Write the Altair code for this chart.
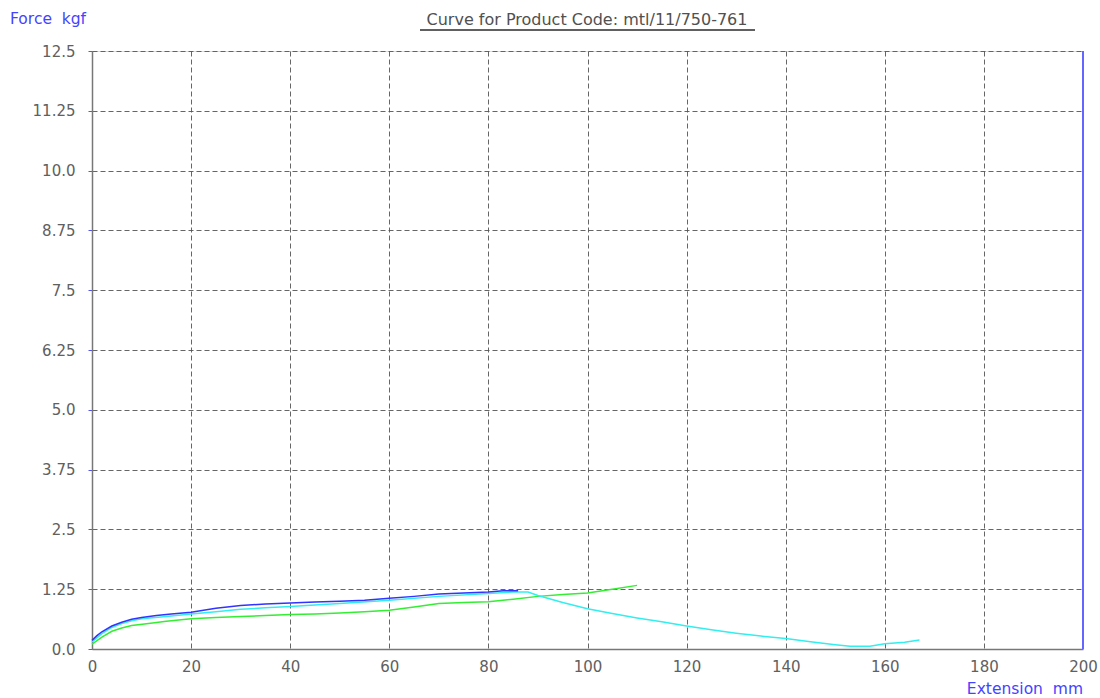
import altair as alt
import pandas as pd

# Tensile test curves: extension (mm) vs force (kgf)
s1_ext = [0, 1, 2, 4, 6, 8, 10, 13, 16, 20, 25, 30, 35, 40, 45, 50, 55, 60, 65, 70, 75, 80, 83, 86]
s1_force = [0.18, 0.28, 0.36, 0.48, 0.56, 0.62, 0.66, 0.70, 0.73, 0.77, 0.85, 0.91, 0.94, 0.96,
            0.98, 1.00, 1.02, 1.06, 1.10, 1.15, 1.17, 1.19, 1.22, 1.22]

s2_ext = [0, 2, 4, 6, 8, 10, 15, 20, 25, 30, 35, 40, 50, 60, 70, 80, 85, 88, 90, 95, 100, 105,
          110, 115, 120, 125, 130, 135, 140, 145, 150, 153, 157, 160, 164, 167]
s2_force = [0.15, 0.32, 0.45, 0.53, 0.59, 0.63, 0.68, 0.73, 0.78, 0.83, 0.86, 0.89, 0.95, 1.02,
            1.10, 1.16, 1.19, 1.19, 1.12, 0.97, 0.84, 0.74, 0.65, 0.57, 0.48, 0.40, 0.33, 0.27,
            0.22, 0.15, 0.09, 0.06, 0.06, 0.11, 0.14, 0.19]

s3_ext = [0, 2, 4, 6, 8, 11, 15, 20, 25, 30, 35, 40, 45, 50, 55, 60, 65, 70, 75, 80, 85, 90, 95,
          100, 105, 110]
s3_force = [0.10, 0.25, 0.37, 0.44, 0.49, 0.53, 0.58, 0.63, 0.66, 0.68, 0.70, 0.72, 0.73, 0.75,
            0.78, 0.81, 0.88, 0.95, 0.97, 0.99, 1.04, 1.10, 1.14, 1.17, 1.25, 1.33]

series_names = ["Sample 3", "Sample 2", "Sample 1"]
series_colors = ["#33ee33", "#33eeee", "#3333ff"]

x_ticks = [0, 20, 40, 60, 80, 100, 120, 140, 160, 180, 200]
y_ticks = [0, 1.25, 2.5, 3.75, 5.0, 6.25, 7.5, 8.75, 10.0, 11.25, 12.5]

title_text = "Curve for Product Code: mtl/11/750-761"
y_title = "Force\u00a0 kgf"
x_title = "Extension\u00a0 mm"

rows = []
for name, xs, ys in [("Sample 3", s3_ext, s3_force),
                     ("Sample 2", s2_ext, s2_force),
                     ("Sample 1", s1_ext, s1_force)]:
    for i, (a, b) in enumerate(zip(xs, ys)):
        rows.append({"series": name, "ext": a, "force": b, "i": i})
df = pd.DataFrame(rows)

W, H = 991, 598
FONT = "DejaVu Sans"
GRID = "#555555"

x_scale = alt.Scale(domain=[0, 200], nice=False, zero=False)
y_scale = alt.Scale(domain=[0, 12.5], nice=False, zero=False)

lines = alt.Chart(df).mark_line(strokeWidth=1.5, interpolate="linear").encode(
    x=alt.X("ext:Q", scale=x_scale,
            axis=alt.Axis(values=x_ticks, title=None, grid=True, gridDash=[5, 3],
                          gridColor=GRID, gridOpacity=0.9, domainColor="#777777",
                          domainWidth=1.5, ticks=False, labelPadding=10,
                          labelFont=FONT, labelFontSize=15, labelColor="#606060",
                          labelFlush=False)),
    y=alt.Y("force:Q", scale=y_scale,
            axis=alt.Axis(values=y_ticks, title=None, grid=True, gridDash=[5, 3],
                          gridColor=GRID, gridOpacity=0.9, domainColor="#777777",
                          domainWidth=1.5, tickColor="#5555ff", tickSize=4,
                          labelPadding=13, labelFont=FONT, labelFontSize=15,
                          labelColor="#606060", labelFlush=False,
                          labelExpr="datum.value % 2.5 == 0 ? format(datum.value, '.1f') : format(datum.value, '.2f')")),
    color=alt.Color("series:N", scale=alt.Scale(domain=series_names, range=series_colors),
                    legend=None),
    order="i:Q",
)

right_border = alt.Chart(df).mark_rule(color="#6666ff", strokeWidth=1.5).encode(
    x=alt.value(W), y=alt.value(0), y2=alt.value(H)
)

title_mark = alt.Chart(pd.DataFrame({"t": [title_text]})).mark_text(
    font=FONT, fontSize=16, color="#505050", align="center", baseline="middle"
).encode(x=alt.value(495), y=alt.value(-31), text="t:N")

title_underline = alt.Chart(df).mark_rule(color="#606060", strokeWidth=1.5).encode(
    x=alt.value(328), x2=alt.value(663), y=alt.value(-21)
)

y_label = alt.Chart(pd.DataFrame({"t": [y_title]})).mark_text(
    font=FONT, fontSize=15.5, color="#4444ff", align="left", baseline="middle"
).encode(x=alt.value(-82), y=alt.value(-32), text="t:N")

x_label = alt.Chart(pd.DataFrame({"t": [x_title]})).mark_text(
    font=FONT, fontSize=15.5, color="#4444ff", align="right", baseline="middle"
).encode(x=alt.value(W), y=alt.value(H + 40), text="t:N")

chart = alt.layer(lines, right_border, title_mark, title_underline, y_label, x_label).properties(
    width=W, height=H,
    autosize=alt.AutoSizeParams(type="none"),
    padding={"left": 92, "top": 51, "right": 17, "bottom": 49},
).configure_view(stroke=None).configure(background="white")

chart.save("out.html", embed_options={"renderer": "svg", "actions": False})
